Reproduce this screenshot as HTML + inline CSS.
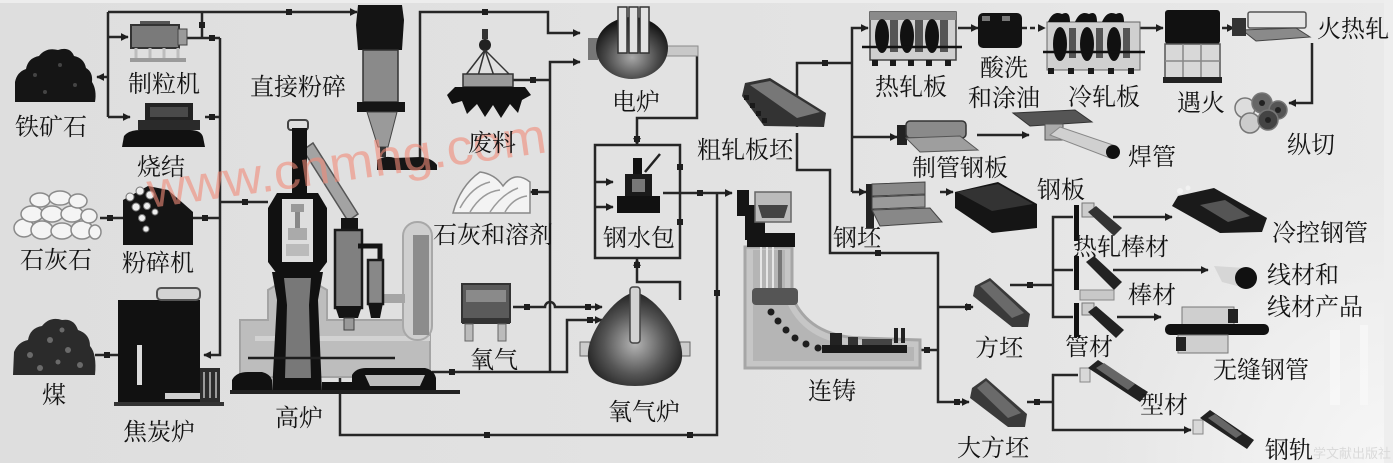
<!DOCTYPE html>
<html><head><meta charset="utf-8">
<style>
html,body{margin:0;padding:0;background:#e3e3e3;}
svg{display:block;}
.t{font-family:"Liberation Serif","Noto Serif CJK SC",serif;font-size:24px;fill:#141414;}
</style></head>
<body>
<svg width="1393" height="463" viewBox="0 0 1393 463" xmlns="http://www.w3.org/2000/svg">
<defs>
<linearGradient id="bg" x1="0" y1="0" x2="1" y2="0">
<stop offset="0" stop-color="#dedede"/><stop offset="0.6" stop-color="#e3e3e3"/><stop offset="1" stop-color="#e9e9e9"/>
</linearGradient>
<radialGradient id="rg" cx="1393" cy="463" r="300" gradientUnits="userSpaceOnUse">
<stop offset="0" stop-color="#f7f7f7" stop-opacity="1"/><stop offset="0.5" stop-color="#f2f2f2" stop-opacity="0.7"/><stop offset="1" stop-color="#eeeeee" stop-opacity="0"/>
</radialGradient>
<radialGradient id="dk" cx="0.5" cy="0.65" r="0.6">
<stop offset="0" stop-color="#a8a8a8"/><stop offset="0.6" stop-color="#4a4a4a"/><stop offset="1" stop-color="#151515"/>
</radialGradient>
<radialGradient id="ox" cx="0.5" cy="0.55" r="0.6">
<stop offset="0" stop-color="#b5b5b5"/><stop offset="0.55" stop-color="#555"/><stop offset="1" stop-color="#161616"/>
</radialGradient>
<marker id="ar" viewBox="0 0 10 10" refX="9" refY="5" markerWidth="8" markerHeight="8" markerUnits="userSpaceOnUse" orient="auto">
<path d="M0,0 L10,5 L0,10 z" fill="#1e1e1e"/>
</marker>
</defs>

<rect width="1393" height="463" fill="url(#bg)"/>
<rect width="1393" height="463" fill="url(#rg)"/>
<rect x="0" y="0" width="1393" height="3" fill="#ededed"/>
<rect x="1384" y="0" width="9" height="463" fill="#eeeeee"/>
<rect x="1330" y="330" width="10" height="75" fill="#f7f7f7" opacity="0.8"/>
<rect x="1360" y="325" width="8" height="80" fill="#f7f7f7" opacity="0.8"/>

<!-- ============ CONNECTORS ============ -->
<g fill="none" stroke="#262626" stroke-width="2.5">
<path d="M108,12 H357" marker-end="url(#ar)"/>
<path d="M108,12 V117"/>
<path d="M108,77 H97" marker-end="url(#ar)"/>
<path d="M108,37 H128" marker-end="url(#ar)"/>
<path d="M108,117 H130" marker-end="url(#ar)"/>
<path d="M187,38 H220"/>
<path d="M202,12 V38"/>
<path d="M205,117 H220"/>
<path d="M220,38 V355 H204" marker-end="url(#ar)"/>
<path d="M100,218 H123"/>
<path d="M193,218 H220"/>
<path d="M220,202 H268"/>
<path d="M95,355 H118"/>
<path d="M420,163 V12 H548 V33 H580" marker-end="url(#ar)"/>
<path d="M550,372 V62 H580" marker-end="url(#ar)"/>
<path d="M513,80 H550"/>
<path d="M527,192 H550"/>
<path d="M513,307 H545 A5,5 0 0 1 555,307 H602" marker-end="url(#ar)"/>
<path d="M432,372 H567 V320 H602" marker-end="url(#ar)"/>
<path d="M340,358 V435 H717 V193"/>
<path d="M663,193 H732" marker-end="url(#ar)"/>
<path d="M670,53 H697 V118 H637 V145" marker-end="url(#ar)"/>
<rect x="595" y="145" width="85" height="113"/>
<path d="M595,182 H613" marker-end="url(#ar)"/>
<path d="M595,207 H613" marker-end="url(#ar)"/>
<path d="M680,300 V282 H637 V259" marker-end="url(#ar)"/>
<path d="M797,127 V63 H852"/>
<path d="M852,192 V28 H868" marker-end="url(#ar)"/>
<path d="M852,137 H897" marker-end="url(#ar)"/>
<path d="M852,192 H866" marker-end="url(#ar)"/>
<path d="M797,133 V170 H830 V253 H938 V402 H969" marker-end="url(#ar)"/>
<path d="M938,307 H973" marker-end="url(#ar)"/>
<path d="M913,350 H938"/>
<path d="M1010,285 H1053"/>
<path d="M1073,217 H1053 V317 H1073"/>
<path d="M1053,270 H1073"/>
<path d="M1027,402 H1053"/>
<path d="M1078,375 H1053 V430 H1191" marker-end="url(#ar)"/>
<path d="M1113,217 H1172" marker-end="url(#ar)"/>
<path d="M1113,270 H1208" marker-end="url(#ar)"/>
<path d="M1117,317 H1161" marker-end="url(#ar)"/>
<path d="M958,28 H978" marker-end="url(#ar)"/>
<path d="M1022,28 H1045" marker-end="url(#ar)" stroke-dasharray="5 3"/>
<path d="M1140,28 H1163" marker-end="url(#ar)"/>
<path d="M1222,28 H1234" marker-end="url(#ar)"/>
<path d="M1312,43 V103 H1289" marker-end="url(#ar)"/>
<path d="M977,135 H1029" marker-end="url(#ar)"/>
<path d="M940,192 H953" marker-end="url(#ar)"/>
</g>
<!-- junction dots -->
<g fill="#1e1e1e">
<rect x="286" y="9" width="6" height="6"/><rect x="199" y="22" width="6" height="6"/>
<rect x="209" y="35" width="6" height="6"/><rect x="209" y="114" width="6" height="6"/>
<rect x="107" y="215" width="6" height="6"/><rect x="202" y="215" width="6" height="6"/>
<rect x="242" y="199" width="6" height="6"/><rect x="104" y="352" width="6" height="6"/>
<rect x="482" y="9" width="6" height="6"/><rect x="530" y="77" width="6" height="6"/>
<rect x="532" y="189" width="6" height="6"/><rect x="524" y="304" width="6" height="6"/>
<rect x="585" y="304" width="6" height="6"/><rect x="587" y="317" width="6" height="6"/>
<rect x="449" y="369" width="6" height="6"/><rect x="484" y="432" width="6" height="6"/>
<rect x="687" y="432" width="6" height="6"/><rect x="697" y="190" width="6" height="6"/>
<rect x="714" y="290" width="6" height="6"/><rect x="677" y="164" width="6" height="6"/>
<rect x="677" y="219" width="6" height="6"/><rect x="634" y="262" width="6" height="6"/>
<rect x="634" y="136" width="6" height="6"/><rect x="822" y="60" width="6" height="6"/>
<rect x="875" y="250" width="6" height="6"/><rect x="965" y="304" width="6" height="6"/>
<rect x="924" y="347" width="6" height="6"/><rect x="954" y="399" width="6" height="6"/>
<rect x="1027" y="282" width="6" height="6"/><rect x="1034" y="399" width="6" height="6"/>
<rect x="335" y="355" width="6" height="6"/>
</g>

<!-- ============ LEFT RAW MATERIALS ============ -->
<path d="M15,102 L15,82 Q17,72 26,69 Q28,58 39,56 Q46,47 58,50 Q70,46 74,56 Q84,58 86,68 Q93,72 92,82 Q97,90 95,102 Z" fill="#151515"/>
<g fill="#444"><circle cx="35" cy="75" r="2"/><circle cx="60" cy="65" r="2"/><circle cx="75" cy="85" r="2"/><circle cx="45" cy="92" r="2"/></g>
<g fill="#f4f4f4" stroke="#8a8a8a" stroke-width="1.5">
<ellipse cx="24" cy="228" rx="10" ry="9"/><ellipse cx="42" cy="230" rx="11" ry="9"/><ellipse cx="62" cy="231" rx="11" ry="8"/><ellipse cx="82" cy="230" rx="11" ry="9"/><ellipse cx="95" cy="232" rx="6" ry="7"/>
<ellipse cx="32" cy="214" rx="11" ry="8"/><ellipse cx="52" cy="214" rx="11" ry="8"/><ellipse cx="72" cy="214" rx="11" ry="8"/><ellipse cx="89" cy="216" rx="8" ry="7"/>
<ellipse cx="40" cy="200" rx="10" ry="7"/><ellipse cx="60" cy="198" rx="11" ry="7"/><ellipse cx="78" cy="201" rx="9" ry="7"/>
</g>
<path d="M13,375 L14,352 Q18,342 28,340 Q30,328 42,326 Q50,316 62,320 Q74,318 78,330 Q90,334 90,346 Q97,354 95,375 Z" fill="#2b2b2b"/>
<g fill="#6a6a6a"><circle cx="30" cy="355" r="3"/><circle cx="50" cy="340" r="3"/><circle cx="68" cy="350" r="3"/><circle cx="80" cy="365" r="3"/><circle cx="40" cy="368" r="3"/><circle cx="58" cy="362" r="2.5"/><circle cx="62" cy="330" r="2.5"/></g>

<rect x="140" y="21" width="30" height="5" fill="#555"/>
<rect x="131" y="25" width="48" height="23" fill="#7a7a7a" stroke="#333" stroke-width="2"/>
<rect x="178" y="29" width="9" height="16" fill="#9a9a9a" stroke="#444"/>
<g stroke="#bdbdbd" stroke-width="3"><line x1="136" y1="48" x2="136" y2="60"/><line x1="150" y1="48" x2="150" y2="60"/><line x1="164" y1="48" x2="164" y2="60"/><line x1="178" y1="48" x2="178" y2="60"/></g>
<rect x="130" y="58" width="56" height="4" fill="#9a9a9a"/>

<rect x="145" y="103" width="48" height="20" fill="#222"/>
<rect x="150" y="107" width="38" height="10" fill="#4a4a4a"/>
<rect x="138" y="120" width="62" height="10" fill="#2a2a2a"/>
<path d="M122,147 L124,136 Q129,130 140,130 L190,130 Q201,130 203,137 L205,147 Z" fill="#111"/>

<path d="M123,245 L123,200 L148,186 L168,190 L184,204 L193,212 L193,245 Z" fill="#141414"/>
<g fill="#eee" stroke="#777" stroke-width="1"><circle cx="130" cy="197" r="4"/><circle cx="140" cy="191" r="4"/><circle cx="150" cy="195" r="4"/><circle cx="136" cy="207" r="4"/><circle cx="147" cy="206" r="3.5"/><circle cx="142" cy="218" r="3.5"/><circle cx="155" cy="212" r="3"/><circle cx="146" cy="229" r="3"/></g>

<rect x="118" y="300" width="82" height="102" fill="#111"/>
<rect x="157" y="288" width="43" height="12" rx="4" fill="#d4d4d4" stroke="#555" stroke-width="2"/>
<rect x="137" y="345" width="5" height="40" fill="#dcdcdc"/>
<rect x="165" y="393" width="35" height="6" fill="#cfcfcf"/>
<rect x="200" y="368" width="20" height="35" fill="#2b2b2b"/>
<g fill="#999"><rect x="203" y="372" width="2" height="26"/><rect x="209" y="372" width="2" height="26"/><rect x="215" y="372" width="2" height="26"/></g>
<rect x="114" y="402" width="110" height="4" fill="#333"/>

<path d="M358,5 L402,5 L404,20 L402,50 L358,50 L356,25 Z" fill="#141414"/>
<rect x="363" y="50" width="35" height="52" fill="#8a8a8a" stroke="#333" stroke-width="1.5"/>
<rect x="357" y="102" width="48" height="10" fill="#151515"/>
<path d="M367,112 L397,112 L388,147 L378,147 Z" fill="#9a9a9a" stroke="#444"/>
<rect x="380" y="147" width="6" height="10" fill="#333"/>
<path d="M377,170 L377,160 Q385,155 395,158 L420,157 Q432,158 437,165 L437,170 Z" fill="#151515"/>

<!-- ============ BLAST FURNACE ============ -->
<path d="M240,320 L268,320 L268,290 L280,283 L315,283 L327,290 L327,320 L430,320 L430,377 L240,377 Z" fill="#bdbdbd" stroke="#a4a4a4" stroke-width="2"/>
<rect x="255" y="336" width="175" height="5" fill="#d2d2d2"/>
<rect x="403" y="222" width="29" height="118" rx="14" fill="#cfcfcf" stroke="#a8a8a8" stroke-width="2"/>
<rect x="413" y="235" width="16" height="100" fill="#8c8c8c"/>
<rect x="383" y="294" width="22" height="9" fill="#a5a5a5"/>
<polygon points="303,150 313,143 358,214 348,221" fill="#a3a3a3" stroke="#555" stroke-width="1.5"/>
<rect x="341" y="218" width="17" height="12" fill="#141414"/>
<rect x="335" y="230" width="27" height="78" fill="#808080" stroke="#1a1a1a" stroke-width="2.5"/>
<path d="M335,306 L362,306 L358,318 L339,318 Z" fill="#141414"/>
<rect x="344" y="318" width="10" height="12" fill="#999" stroke="#444"/>
<path d="M358,246 H380 V262" fill="none" stroke="#141414" stroke-width="5"/>
<rect x="368" y="260" width="15" height="44" fill="#888" stroke="#1a1a1a" stroke-width="2.5"/>
<path d="M368,303 L383,303 L380,318 L371,318 Z" fill="#141414"/>
<rect x="288" y="120" width="20" height="10" rx="3" fill="#ddd" stroke="#444" stroke-width="2"/>
<rect x="292" y="128" width="15" height="68" fill="#111"/>
<path d="M277,193 L318,193 L327,208 L327,262 L318,274 L277,274 L268,262 L268,208 Z" fill="#111"/>
<rect x="282" y="199" width="31" height="63" fill="#dedede"/>
<rect x="291" y="204" width="13" height="8" fill="#999"/>
<rect x="295" y="212" width="5" height="16" fill="#888"/>
<rect x="288" y="228" width="19" height="12" fill="#aaa"/>
<rect x="286" y="244" width="23" height="12" fill="#bbb"/>
<path d="M272,272 L323,272 L318,300 L322,392 L272,392 L277,300 Z" fill="#111"/>
<path d="M284,278 L311,278 L309,305 L311,378 L285,378 L287,305 Z" fill="#787878"/>
<path d="M248,358 H395" stroke="#1e1e1e" stroke-width="2.5" fill="none"/>
<path d="M232,393 L232,380 Q236,372 248,372 L262,372 Q270,374 272,380 L272,393 Z" fill="#111"/>
<rect x="322" y="382" width="30" height="11" fill="#111"/>
<path d="M352,393 L352,375 Q356,368 366,368 L425,368 Q434,370 436,378 L436,393 Z" fill="#111"/>
<path d="M365,375 L425,375 L420,386 L370,386 Z" fill="#bdbdbd"/>
<rect x="230" y="390" width="230" height="4" fill="#222"/>

<!-- ============ CENTER ============ -->
<rect x="482" y="29" width="6" height="10" fill="#333"/>
<circle cx="485" cy="45" r="6" fill="#222"/>
<g stroke="#333" stroke-width="1.5"><line x1="485" y1="50" x2="465" y2="76"/><line x1="485" y1="50" x2="511" y2="76"/><line x1="485" y1="50" x2="478" y2="76"/><line x1="485" y1="50" x2="494" y2="76"/></g>
<rect x="463" y="74" width="50" height="13" fill="#9a9a9a" stroke="#333" stroke-width="1.5"/>
<path d="M447,95 L455,87 L525,87 L531,95 L522,100 L518,113 L510,104 L501,118 L493,105 L485,117 L477,104 L467,114 L462,101 L452,104 Z" fill="#111"/>

<path d="M453,213 Q460,186 480,172 Q495,174 503,186 Q515,170 530,182 L530,213 Z" fill="#f3f3f3" stroke="#888" stroke-width="1.5"/>
<g fill="none" stroke="#9a9a9a" stroke-width="1.5"><path d="M460,208 Q472,186 490,182"/><path d="M470,212 Q482,192 500,190"/><path d="M490,212 Q502,194 518,188"/><path d="M505,212 Q513,198 527,196"/></g>

<rect x="462" y="284" width="48" height="38" fill="#5a5a5a" stroke="#333" stroke-width="2"/>
<rect x="466" y="290" width="40" height="12" fill="#8a8a8a"/>
<rect x="462" y="318" width="48" height="6" fill="#333"/>
<rect x="465" y="324" width="8" height="17" fill="#bbb" stroke="#666"/>
<rect x="498" y="324" width="8" height="17" fill="#bbb" stroke="#666"/>

<rect x="588" y="38" width="10" height="22" fill="#777"/>
<rect x="660" y="46" width="38" height="10" fill="#c8c8c8" stroke="#8a8a8a"/>
<ellipse cx="632" cy="48" rx="36" ry="31" fill="url(#dk)"/>
<g fill="#e2e2e2" stroke="#333" stroke-width="1.5"><rect x="618" y="7" width="9" height="46"/><rect x="629" y="7" width="9" height="46"/><rect x="640" y="7" width="9" height="46"/></g>

<rect x="633" y="158" width="9" height="18" fill="#111"/>
<line x1="645" y1="172" x2="660" y2="154" stroke="#222" stroke-width="2.5"/>
<rect x="625" y="174" width="27" height="24" fill="#1a1a1a"/>
<rect x="632" y="179" width="13" height="13" fill="#777"/>
<rect x="617" y="196" width="43" height="17" fill="#111"/>

<rect x="580" y="342" width="10" height="14" fill="#ccc" stroke="#666"/>
<rect x="680" y="342" width="10" height="14" fill="#ccc" stroke="#666"/>
<path d="M635,292 C655,296 680,330 682,352 C684,375 662,386 635,386 C608,386 586,375 588,352 C590,330 615,296 635,292Z" fill="url(#ox)"/>
<rect x="630" y="287" width="10" height="56" rx="3" fill="#d2d2d2" stroke="#444" stroke-width="1.5"/>

<path d="M745,247 L792,247 L792,296 Q808,336 860,338 L920,340 L920,368 L745,368 Z" fill="#c6c6c6" stroke="#a6a6a6" stroke-width="3"/>
<path d="M753,250 L785,250 L785,298 Q802,343 860,346 L914,347 L914,361 L753,361 Z" fill="#b5b5b5"/>
<g stroke="#e6e6e6" stroke-width="2"><line x1="761" y1="247" x2="761" y2="290"/><line x1="767" y1="247" x2="767" y2="290"/><line x1="773" y1="247" x2="773" y2="290"/></g>
<rect x="778" y="250" width="4" height="40" fill="#777"/>
<rect x="752" y="288" width="46" height="17" rx="4" fill="#555"/>
<g fill="#1e1e1e"><circle cx="771" cy="312" r="3.5"/><circle cx="778" cy="321" r="3.5"/><circle cx="786" cy="330" r="3.5"/><circle cx="795" cy="338" r="3.5"/><circle cx="806" cy="344" r="3.5"/><circle cx="818" cy="348" r="3.5"/></g>
<rect x="822" y="345" width="85" height="8" fill="#1a1a1a"/>
<rect x="830" y="333" width="12" height="12" fill="#222"/><rect x="848" y="337" width="10" height="8" fill="#333"/>
<rect x="894" y="328" width="4" height="15" fill="#222"/><rect x="901" y="328" width="4" height="15" fill="#222"/>
<rect x="862" y="339" width="30" height="6" fill="#444"/>
<rect x="737" y="190" width="12" height="26" fill="#141414"/>
<rect x="745" y="205" width="20" height="35" fill="#141414"/>
<rect x="755" y="192" width="36" height="30" fill="#bbb" stroke="#666" stroke-width="1.5"/>
<path d="M758,205 L788,205 L784,218 L762,218 Z" fill="#444"/>
<rect x="747" y="233" width="48" height="14" fill="#141414"/>

<polygon points="745,83 770,78 826,113 824,127 764,126 742,96" fill="#333"/>
<polygon points="750,85 770,81 820,112 797,118" fill="#777"/>
<g fill="#1a1a1a"><rect x="744" y="95" width="5" height="5"/><rect x="750" y="103" width="5" height="5"/><rect x="756" y="111" width="5" height="5"/><rect x="762" y="118" width="5" height="5"/></g>

<!-- ============ RIGHT ============ -->
<rect x="870" y="12" width="86" height="48" fill="#d0d0d0" stroke="#444" stroke-width="1.5"/>
<rect x="870" y="12" width="86" height="8" fill="#8a8a8a"/>
<g fill="#111"><ellipse cx="882" cy="36" rx="7" ry="17"/><ellipse cx="907" cy="36" rx="7" ry="17"/><ellipse cx="932" cy="36" rx="7" ry="17"/></g>
<g fill="#555"><rect x="890" y="20" width="8" height="32"/><rect x="915" y="20" width="8" height="32"/><rect x="940" y="20" width="8" height="32"/></g>
<line x1="862" y1="47" x2="962" y2="47" stroke="#111" stroke-width="2.5"/>
<g fill="#1a1a1a"><rect x="872" y="60" width="6" height="6"/><rect x="890" y="60" width="6" height="6"/><rect x="908" y="60" width="6" height="6"/><rect x="926" y="60" width="6" height="6"/><rect x="945" y="60" width="6" height="6"/></g>
<rect x="978" y="13" width="44" height="35" rx="5" fill="#121212"/>
<rect x="982" y="16" width="8" height="5" fill="#777"/><rect x="1002" y="16" width="8" height="5" fill="#777"/>
<rect x="1047" y="22" width="93" height="48" fill="#d0d0d0" stroke="#666" stroke-width="1"/>
<g fill="#111"><path d="M1048,22 q5,-12 14,-8 q8,-4 8,8z"/><path d="M1075,22 q5,-12 14,-8 q8,-4 8,8z"/><path d="M1102,22 q5,-12 14,-8 q8,-4 8,8z"/>
<ellipse cx="1060" cy="44" rx="7" ry="17"/><ellipse cx="1087" cy="44" rx="7" ry="17"/><ellipse cx="1114" cy="44" rx="7" ry="17"/></g>
<g fill="#555"><rect x="1069" y="28" width="7" height="30"/><rect x="1096" y="28" width="7" height="30"/><rect x="1123" y="28" width="7" height="30"/></g>
<line x1="1043" y1="52" x2="1145" y2="52" stroke="#111" stroke-width="2.5"/>
<g fill="#1a1a1a"><rect x="1048" y="68" width="6" height="6"/><rect x="1068" y="68" width="6" height="6"/><rect x="1088" y="68" width="6" height="6"/><rect x="1108" y="68" width="6" height="6"/><rect x="1128" y="68" width="6" height="6"/></g>
<rect x="1165" y="10" width="55" height="34" rx="3" fill="#111"/>
<rect x="1165" y="44" width="55" height="34" fill="#d8d8d8" stroke="#555" stroke-width="1.5"/>
<g stroke="#888" stroke-width="1.5"><line x1="1183" y1="44" x2="1183" y2="78"/><line x1="1201" y1="44" x2="1201" y2="78"/><line x1="1165" y1="61" x2="1220" y2="61"/></g>
<rect x="1163" y="77" width="59" height="6" fill="#222"/>
<rect x="1248" y="12" width="58" height="16" rx="2" fill="#e6e6e6" stroke="#555" stroke-width="1.5"/>
<polygon points="1242,30 1296,28 1310,37 1256,41" fill="#8a8a8a" stroke="#444"/>
<rect x="1232" y="18" width="14" height="18" fill="#333"/>
<g stroke="#777" stroke-width="1.5"><circle cx="1245" cy="108" r="10" fill="#ddd"/><circle cx="1262" cy="103" r="10" fill="#666"/><circle cx="1278" cy="110" r="9" fill="#555"/><circle cx="1250" cy="123" r="10" fill="#ccc"/><circle cx="1268" cy="120" r="10" fill="#444"/></g>
<g fill="#222"><circle cx="1262" cy="103" r="3"/><circle cx="1268" cy="120" r="3"/><circle cx="1278" cy="110" r="3"/></g>
<rect x="897" y="125" width="10" height="20" fill="#222"/>
<rect x="906" y="121" width="60" height="17" rx="4" fill="#8a8a8a" stroke="#333" stroke-width="1.5"/>
<polygon points="906,138 960,136 978,150 920,152" fill="#9e9e9e" stroke="#555"/>
<polygon points="1013,113 1075,110 1092,122 1030,126" fill="#555" stroke="#333"/>
<rect x="1045" y="124" width="18" height="16" fill="#aaa" stroke="#555"/>
<polygon points="1050,135 1060,127 1116,146 1110,158" fill="#d0d0d0" stroke="#888"/>
<circle cx="1113" cy="152" r="7" fill="#111"/>
<rect x="866" y="184" width="8" height="44" fill="#222"/>
<polygon points="872,184 925,182 925,194 872,196" fill="#888" stroke="#444"/>
<polygon points="872,197 925,195 925,207 872,209" fill="#9a9a9a" stroke="#444"/>
<polygon points="872,210 930,208 942,222 880,226" fill="#888" stroke="#444"/>
<polygon points="955,192 998,182 1037,204 1037,228 992,233 955,208" fill="#151515"/>
<polygon points="957,192 998,184 1033,204 992,211" fill="#333"/>

<polygon points="1178,196 1214,188 1267,218 1262,232 1220,233 1172,206" fill="#1a1a1a"/>
<polygon points="1200,205 1225,200 1250,216 1228,222" fill="#555"/>
<g fill="#f2f2f2"><circle cx="1180" cy="191" r="3"/><circle cx="1188" cy="188" r="2.5"/></g>

<g>
<rect x="1074" y="205" width="5" height="36" fill="#111"/>
<rect x="1082" y="203" width="12" height="14" fill="#ccc" stroke="#777"/>
<polygon points="1088,212 1096,206 1122,228 1114,236" fill="#333"/>
<rect x="1074" y="256" width="5" height="34" fill="#111"/>
<polygon points="1086,262 1094,256 1122,282 1114,290" fill="#222"/>
<rect x="1080" y="290" width="34" height="10" fill="#c8c8c8" stroke="#888"/>
<rect x="1074" y="303" width="5" height="34" fill="#111"/>
<rect x="1082" y="303" width="12" height="12" fill="#ccc" stroke="#777"/>
<polygon points="1088,312 1096,306 1124,330 1116,338" fill="#222"/>
</g>
<polygon points="1214,266 1245,268 1245,288 1222,282" fill="#d6d6d6"/>
<circle cx="1246" cy="278" r="11" fill="#111"/>
<rect x="1182" y="307" width="52" height="18" fill="#cfcfcf" stroke="#777"/>
<rect x="1228" y="309" width="10" height="14" fill="#222"/>
<rect x="1165" y="324" width="104" height="11" rx="5" fill="#111"/>
<rect x="1178" y="335" width="50" height="18" fill="#cfcfcf" stroke="#777"/>
<rect x="1176" y="337" width="10" height="14" fill="#222"/>
<polygon points="975,286 990,278 1030,314 1028,327 1012,327 973,296" fill="#3a3a3a"/>
<polygon points="980,286 990,281 1024,313 1012,318" fill="#6a6a6a"/>
<polygon points="972,388 986,378 1027,414 1025,427 1008,427 970,398" fill="#3a3a3a"/>
<polygon points="977,388 986,381 1021,413 1008,418" fill="#6a6a6a"/>
<rect x="1080" y="368" width="10" height="14" fill="#d8d8d8" stroke="#888"/>
<polygon points="1088,368 1098,360 1148,392 1140,402" fill="#222"/>
<polygon points="1096,368 1104,363 1135,384 1128,390" fill="#666"/>
<rect x="1193" y="420" width="10" height="14" fill="#d8d8d8" stroke="#888"/>
<polygon points="1200,418 1210,410 1254,440 1247,449" fill="#222"/>
<polygon points="1208,418 1215,414 1242,434 1236,438" fill="#666"/>

<!-- ============ WATERMARK ============ -->
<text x="150" y="208" transform="rotate(-8 150 208)" font-family="Liberation Sans, sans-serif" font-size="50" fill="#f08a78" fill-opacity="0.6" textLength="402" lengthAdjust="spacingAndGlyphs">www.cnmhg.com</text>
<text x="1313" y="458" font-family="Liberation Sans, Noto Sans CJK SC, sans-serif" font-size="13" fill="#dadada">学文献出版社</text>

<!-- ============ LABELS ============ -->
<text class="t" x="15" y="135">铁矿石</text>
<text class="t" x="128" y="92">制粒机</text>
<text class="t" x="250" y="95">直接粉碎</text>
<text class="t" x="137" y="175">烧结</text>
<text class="t" x="20" y="268">石灰石</text>
<text class="t" x="122" y="271">粉碎机</text>
<text class="t" x="42" y="403">煤</text>
<text class="t" x="123" y="440">焦炭炉</text>
<text class="t" x="275" y="426">高炉</text>
<text class="t" x="468" y="151">废料</text>
<text class="t" x="612" y="110">电炉</text>
<text class="t" x="433" y="243">石灰和溶剂</text>
<text class="t" x="603" y="246">钢水包</text>
<text class="t" x="470" y="368">氧气</text>
<text class="t" x="608" y="420">氧气炉</text>
<text class="t" x="697" y="158">粗轧板坯</text>
<text class="t" x="808" y="399">连铸</text>
<text class="t" x="833" y="246">钢坯</text>
<text class="t" x="875" y="95">热轧板</text>
<text class="t" x="980" y="76">酸洗</text>
<text class="t" x="968" y="106">和涂油</text>
<text class="t" x="1068" y="105">冷轧板</text>
<text class="t" x="1177" y="111">遇火</text>
<text class="t" x="1317" y="37">火热轧</text>
<text class="t" x="1287" y="153">纵切</text>
<text class="t" x="1128" y="165">焊管</text>
<text class="t" x="912" y="176">制管钢板</text>
<text class="t" x="1037" y="198">钢板</text>
<text class="t" x="1272" y="241">冷控钢管</text>
<text class="t" x="1073" y="255">热轧棒材</text>
<text class="t" x="1267" y="283">线材和</text>
<text class="t" x="1267" y="315">线材产品</text>
<text class="t" x="1128" y="303">棒材</text>
<text class="t" x="975" y="356">方坯</text>
<text class="t" x="1065" y="355">管材</text>
<text class="t" x="1213" y="378">无缝钢管</text>
<text class="t" x="1140" y="413">型材</text>
<text class="t" x="957" y="456">大方坯</text>
<text class="t" x="1265" y="458">钢轨</text>
</svg>
</body></html>
